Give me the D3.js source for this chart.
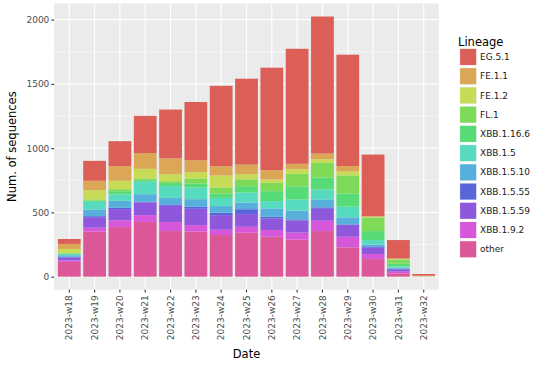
<!DOCTYPE html>
<html>
<head>
<meta charset="utf-8">
<script src="https://cdn.jsdelivr.net/npm/d3@7"></script>
<style>
  body { margin: 0; background: #fff; }
  svg text { font-family: "DejaVu Sans", sans-serif; }
</style>
</head>
<body>
<svg id="chart" width="553" height="367"></svg>
<script>
// weeks on the x axis
const weeks = ["2023-w18", "2023-w19", "2023-w20", "2023-w21", "2023-w22", "2023-w23", "2023-w24",
    "2023-w25", "2023-w26", "2023-w27", "2023-w28", "2023-w29", "2023-w30", "2023-w31", "2023-w32"];

// lineages in legend order (first one sits on top of the stack)
const lineages = ["EG.5.1", "FE.1.1", "FE.1.2", "FL.1", "XBB.1.16.6", "XBB.1.5",
    "XBB.1.5.10", "XBB.1.5.55", "XBB.1.5.59", "XBB.1.9.2", "other"];

// counts per week, one array per lineage
const EG_5_1     = [38, 155, 194, 290, 380, 453, 626, 668, 798, 895, 1066, 866, 479, 143, 13];
const FE_1_1     = [39, 73, 114, 122, 123, 93, 72, 75, 72, 42, 44, 42, 5, 5, 4];
const FE_1_2     = [31, 72, 65, 75, 54, 49, 93, 39, 26, 36, 29, 31, 5, 3, 1];
const FL_1       = [5, 8, 16, 13, 15, 39, 47, 54, 65, 97, 113, 140, 106, 33, 1];
const XBB_1_16_6 = [5, 11, 25, 13, 24, 31, 34, 49, 77, 103, 94, 103, 70, 21, 1];
const XBB_1_5    = [8, 59, 50, 96, 91, 91, 64, 78, 57, 86, 77, 83, 34, 10, 0];
const XBB_1_5_10 = [12, 52, 54, 60, 51, 59, 52, 52, 65, 68, 62, 55, 15, 8, 0];
const XBB_1_5_55 = [6, 8, 10, 5, 11, 16, 18, 38, 13, 9, 11, 4, 11, 5, 0];
const XBB_1_5_59 = [22, 82, 88, 98, 126, 127, 114, 99, 90, 94, 93, 92, 49, 18, 0];
const XBB_1_9_2  = [12, 31, 52, 53, 70, 49, 41, 46, 52, 55, 80, 83, 39, 13, 0];
const other      = [115, 350, 386, 426, 355, 352, 324, 342, 311, 288, 355, 228, 137, 26, 1];

const counts = [EG_5_1, FE_1_1, FE_1_2, FL_1, XBB_1_16_6, XBB_1_5,
    XBB_1_5_10, XBB_1_5_55, XBB_1_5_59, XBB_1_9_2, other];

const yTicks = [0, 500, 1000, 1500, 2000];
const yMinor = [250, 750, 1250, 1750];

// build table rows for d3.stack
const table = weeks.map((w, j) => {
    const row = { week: w };
    lineages.forEach((l, i) => { row[l] = counts[i][j]; });
    return row;
});

// hls palette (h starts at 0.01, l = .6, s = .65)
const color = d3.scaleOrdinal()
    .domain(lineages)
    .range(lineages.map((_, i) => d3.hsl((0.01 + i / lineages.length) * 360, 0.65, 0.6).formatHex()));

// panel box
const panel = { left: 54.1, right: 438.9, top: 3.5, bottom: 289.7 };

const svg = d3.select("#chart");

// stack from the bottom: "other" first
const series = d3.stack().keys(lineages.slice().reverse())(table);
const maxTotal = d3.max(table, d => d3.sum(lineages, l => d[l]));

const x = d3.scaleBand()
    .domain(weeks)
    .range([panel.left, panel.right])
    .paddingInner(0.1)
    .paddingOuter(0.15);

const y = d3.scaleLinear()
    .domain([-0.05 * maxTotal, 1.05 * maxTotal])
    .range([panel.bottom, panel.top]);

// background + grid
svg.append("rect")
    .attr("x", panel.left)
    .attr("y", panel.top)
    .attr("width", panel.right - panel.left)
    .attr("height", panel.bottom - panel.top)
    .attr("fill", "#ebebeb");

const grid = svg.append("g").attr("class", "grid");
grid.selectAll("line.minor")
    .data(yMinor)
    .join("line")
    .attr("class", "minor")
    .attr("x1", panel.left).attr("x2", panel.right)
    .attr("y1", d => y(d)).attr("y2", d => y(d))
    .attr("stroke", "#fff").attr("stroke-width", 0.55);
grid.selectAll("line.majorY")
    .data(yTicks)
    .join("line")
    .attr("class", "majorY")
    .attr("x1", panel.left).attr("x2", panel.right)
    .attr("y1", d => y(d)).attr("y2", d => y(d))
    .attr("stroke", "#fff").attr("stroke-width", 1.1);
grid.selectAll("line.majorX")
    .data(weeks)
    .join("line")
    .attr("class", "majorX")
    .attr("x1", d => x(d) + x.bandwidth() / 2).attr("x2", d => x(d) + x.bandwidth() / 2)
    .attr("y1", panel.top).attr("y2", panel.bottom)
    .attr("stroke", "#fff").attr("stroke-width", 1.1);

// bars
svg.append("g")
    .selectAll("g")
    .data(series)
    .join("g")
    .attr("fill", d => color(d.key))
    .selectAll("rect")
    .data(d => d)
    .join("rect")
    .attr("x", d => x(d.data.week))
    .attr("width", x.bandwidth())
    .attr("y", d => y(d[1]))
    .attr("height", d => Math.max(0, y(d[0]) - y(d[1])));

// axes
const yAxis = svg.append("g")
    .attr("transform", `translate(${panel.left},0)`)
    .call(d3.axisLeft(y).tickValues(yTicks).tickFormat(d3.format("d")).tickSize(2.75).tickPadding(2));
const xAxis = svg.append("g")
    .attr("transform", `translate(0,${panel.bottom})`)
    .call(d3.axisBottom(x).tickSize(2.75).tickPadding(2));

[yAxis, xAxis].forEach(a => {
    a.select(".domain").remove();
    a.selectAll(".tick line").attr("stroke", "#333").attr("stroke-width", 1.1);
    a.selectAll("text")
        .attr("fill", "#4d4d4d")
        .style("font-size", "9px")
        .style("font-family", "DejaVu Sans, sans-serif");
});

xAxis.selectAll("text")
    .attr("text-anchor", "end")
    .attr("transform", "translate(0,5.5) rotate(-90)")
    .attr("x", 0)
    .attr("y", 0)
    .attr("dy", "0.35em");

// axis titles
svg.append("text")
    .attr("x", (panel.left + panel.right) / 2)
    .attr("y", 358)
    .attr("text-anchor", "middle")
    .style("font-size", "11.5px")
    .text("Date");

svg.append("text")
    .attr("transform", `translate(16,${(panel.top + panel.bottom) / 2}) rotate(-90)`)
    .attr("text-anchor", "middle")
    .style("font-size", "11.5px")
    .text("Num. of sequences");

// legend
const legend = svg.append("g").attr("transform", "translate(459.5,0)");
legend.append("text")
    .attr("x", -1.5)
    .attr("y", 45.5)
    .style("font-size", "11.5px")
    .text("Lineage");

const item = legend.selectAll("g.item")
    .data(lineages)
    .join("g")
    .attr("class", "item")
    .attr("transform", (d, i) => `translate(0,${48.3 + i * 19.23})`);

item.append("rect")
    .attr("width", 17.3)
    .attr("height", 17.3)
    .attr("fill", "#f2f2f2");
item.append("rect")
    .attr("x", 0.6).attr("y", 0.6)
    .attr("width", 16.1)
    .attr("height", 16.1)
    .attr("fill", d => color(d));
item.append("text")
    .attr("x", 20.5)
    .attr("y", 8.65)
    .attr("dy", "0.35em")
    .style("font-size", "9px")
    .attr("fill", "#1a1a1a")
    .text(d => d);
</script>
</body>
</html>
